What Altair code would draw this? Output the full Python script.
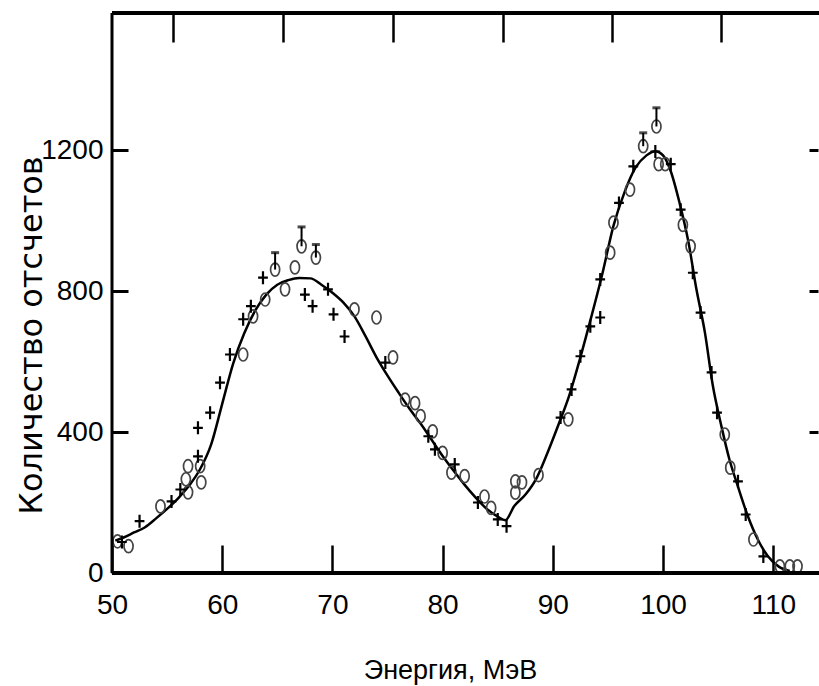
import altair as alt
import pandas as pd

# ---- data ----
curve_e = [50.3, 51, 52, 53, 54, 55, 56, 57, 58, 59, 60, 61, 62, 63, 64, 65, 66, 67, 68, 69,
           70, 71, 72, 73, 74, 75, 76, 77, 78, 79, 80, 81, 82, 83, 84, 85, 85.7, 86.5, 87.5,
           88.5, 89.5, 90.5, 91.5, 92.5, 93.5, 94.5, 95.5, 96.5, 97.5, 98.5, 99.3, 100, 100.7,
           101.5, 102.3, 103, 103.8, 104.5, 105.3, 106, 106.8, 107.7, 108.6, 109.5, 110.5, 111.5]
curve_c = [92, 100, 115, 130, 155, 182, 212, 248, 295, 365, 480, 595, 680, 745, 790, 818, 831,
           837, 836, 818, 795, 767, 728, 672, 612, 560, 512, 466, 424, 378, 332, 290, 250, 214,
           182, 160, 150, 190, 222, 268, 340, 420, 505, 612, 728, 850, 985, 1080, 1150, 1185,
           1197, 1185, 1140, 1050, 940, 810, 682, 535, 416, 325, 245, 161, 95, 48, 18, 6]

circ_e = [50.5, 51.5, 54.4, 56.7, 56.9, 56.9, 58.0, 58.1, 61.9, 62.8, 63.9, 64.8, 65.7, 66.6,
          67.2, 68.5, 72.0, 74.0, 75.5, 76.6, 77.5, 78.0, 79.1, 80.0, 80.8, 82.0, 83.8, 84.4,
          86.6, 86.6, 87.2, 88.7, 91.4, 95.2, 95.5, 97.0, 98.2, 99.4, 99.6, 100.2, 101.8, 102.5,
          105.6, 106.1, 108.2, 110.6, 111.5, 112.2]
circ_c = [90, 76, 189, 266, 229, 303, 303, 257, 620, 728, 776, 861, 805, 867, 927, 895, 748,
          725, 612, 492, 482, 445, 402, 341, 285, 275, 217, 185, 260, 228, 257, 278, 436, 909,
          994, 1088, 1211, 1267, 1160, 1160, 988, 927, 393, 299, 95, 19, 19, 19]

cross_e = [50.9, 52.5, 55.4, 56.2, 57.8, 57.8, 58.9, 59.8, 60.7, 61.9, 62.6, 63.7, 67.5, 68.2,
           69.6, 70.1, 71.1, 74.8, 78.7, 79.3, 81.1, 83.2, 85.0, 85.8, 90.7, 91.7, 92.5, 93.4,
           94.3, 94.3, 96.0, 97.3, 99.3, 100.7, 101.6, 102.7, 103.4, 104.4, 104.9, 106.8, 107.5,
           109.1]
cross_c = [88, 147, 203, 237, 331, 412, 455, 540, 620, 720, 757, 838, 790, 757, 805, 734, 671,
           597, 388, 351, 308, 200, 152, 133, 441, 521, 615, 700, 725, 833, 1050, 1154, 1196,
           1160, 1031, 852, 739, 569, 455, 260, 166, 47]

err_e = [64.8, 67.2, 68.5, 98.2, 99.4]
err_lo = [861, 927, 895, 1211, 1267]
err_hi = [909, 982, 932, 1249, 1320]

x_ticks_bottom = [50, 60, 70, 80, 90, 100, 110]
x_ticks_top = [55.5, 65.5, 75.5, 85.5, 95.4, 105.3]
y_ticks_left = [0, 400, 800, 1200]
y_ticks_right = [400, 800, 1200]
x_title = "Энергия, МэВ"
y_title = "Количество отсчетов"

# ---- layout ----
W, H = 706, 560
LABEL_FONT = "Liberation Sans, Arial, sans-serif"
YTITLE_FONT = "DejaVu Sans, sans-serif"

curve_df = pd.DataFrame({"E": curve_e, "C": curve_c})
circ_df = pd.DataFrame({"E": circ_e, "C": circ_c})
cross_df = pd.DataFrame({"E": cross_e, "C": cross_c})
err_df = pd.DataFrame({"E": err_e, "lo": err_lo, "hi": err_hi})
one = pd.DataFrame({"a": [0]})

xscale = alt.Scale(domain=[50, 114.06], nice=False, zero=False)
yscale = alt.Scale(domain=[0, 1589], nice=False, zero=False)

bottom_axis = alt.Axis(
    orient="bottom", values=x_ticks_bottom, offset=-28, tickSize=28, tickWidth=2.5,
    tickColor="black", domain=False, grid=False, labelFont=LABEL_FONT, labelFontSize=28,
    labelColor="black", labelPadding=18, labelFlush=False, format="d",
    title=x_title, titleFont=LABEL_FONT, titleFontSize=27, titleFontWeight="normal",
    titleColor="black", titleX=338, titleY=133, titleBaseline="alphabetic", titleAlign="center",
)
left_axis = alt.Axis(
    orient="left", values=y_ticks_left, offset=-16, tickSize=16, tickWidth=3,
    tickColor="black", domain=False, grid=False, labelFont=LABEL_FONT, labelFontSize=28,
    labelColor="black", labelPadding=9, format="d",
    title=y_title, titleFont=YTITLE_FONT, titleFontSize=32, titleFontWeight="normal",
    titleColor="black", titleX=-97, titleY=322, titleAngle=270, titleBaseline="middle",
    titleAlign="center",
)
top_axis = alt.Axis(
    orient="top", values=x_ticks_top, offset=-29, tickSize=29, tickWidth=2.5,
    tickColor="black", domain=False, grid=False, labels=False, title=None,
)
right_axis = alt.Axis(
    orient="right", values=y_ticks_right, offset=-9, tickSize=9, tickWidth=3,
    tickColor="black", domain=False, grid=False, labels=False, title=None,
)

ELLIPSE = "M0,-1A0.7,1 0 1,1 0,1A0.7,1 0 1,1 0,-1Z"
CROSS = "M-0.75,0L0.75,0M0,-1L0,1"

line = alt.Chart(curve_df).mark_line(color="black", strokeWidth=2.5, interpolate="monotone").encode(
    x=alt.X("E:Q", scale=xscale, axis=bottom_axis),
    y=alt.Y("C:Q", scale=yscale, axis=left_axis),
)

circles = alt.Chart(circ_df).mark_point(
    shape=ELLIPSE, size=169, filled=False, color="#444444", strokeWidth=1.7, opacity=1
).encode(
    x=alt.X("E:Q", scale=xscale, axis=top_axis),
    y=alt.Y("C:Q", scale=yscale, axis=right_axis),
)

crosses = alt.Chart(cross_df).mark_point(
    shape=CROSS, size=169, filled=False, color="black", strokeWidth=2.2, opacity=1
).encode(
    x=alt.X("E:Q", scale=xscale, axis=None),
    y=alt.Y("C:Q", scale=yscale, axis=None),
)

err_rule = alt.Chart(err_df).mark_rule(color="black", strokeWidth=2).encode(
    x=alt.X("E:Q", scale=xscale, axis=None),
    y=alt.Y("lo:Q", scale=yscale, axis=None),
    y2="hi:Q",
)
err_cap = alt.Chart(err_df).mark_tick(orient="horizontal", color="black", thickness=3, size=8).encode(
    x=alt.X("E:Q", scale=xscale, axis=None),
    y=alt.Y("hi:Q", scale=yscale, axis=None),
)

frame_left = alt.Chart(one).mark_rule(color="black", strokeWidth=3).encode(
    x=alt.value(0), y=alt.value(0), y2=alt.value(H)
)
frame_top = alt.Chart(one).mark_rule(color="black", strokeWidth=4).encode(
    x=alt.value(0), x2=alt.value(W + 1), y=alt.value(0)
)
frame_bottom = alt.Chart(one).mark_rule(color="black", strokeWidth=4).encode(
    x=alt.value(0), x2=alt.value(W + 1), y=alt.value(H)
)

chart = alt.layer(
    line, circles, crosses, err_rule, err_cap, frame_left, frame_top, frame_bottom
).resolve_axis(
    x="independent", y="independent"
).resolve_scale(
    x="shared", y="shared"
).properties(
    width=W, height=H,
    padding={"left": 112, "top": 13, "right": 1, "bottom": 113},
    autosize=alt.AutoSizeParams(type="none"),
    background="white",
).configure_view(strokeWidth=0)

chart.save("out.html", embed_options={"renderer": "svg", "actions": False})
